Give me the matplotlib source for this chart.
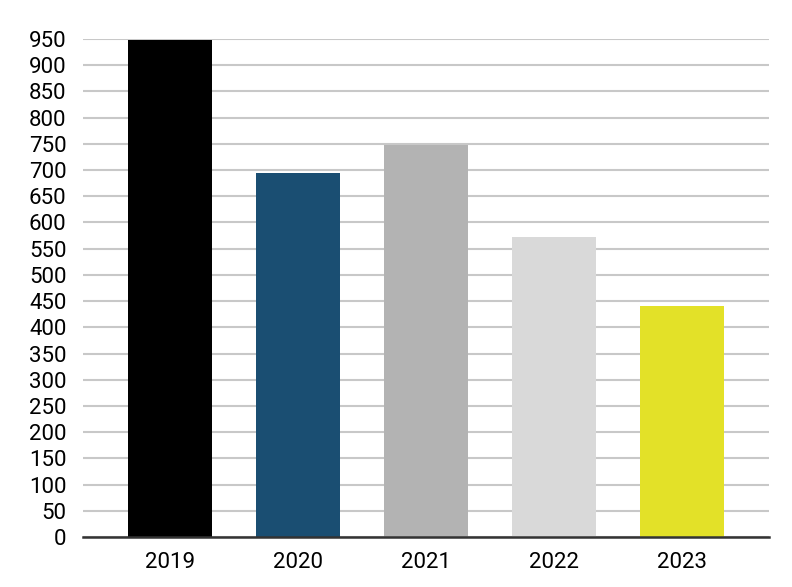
import matplotlib
matplotlib.use('Agg')
import matplotlib.pyplot as plt

years = ['2019', '2020', '2021', '2022', '2023']
values = [948, 695, 748, 573, 440]
colors = ['#000000', '#1a4e72', '#b3b3b3', '#d9d9d9', '#e3e128']
yticks = list(range(0, 951, 50))

plt.rcParams['font.family'] = ['Roboto', 'DejaVu Sans']

fig = plt.figure(figsize=(7.92, 5.87), dpi=100)
ax = fig.add_axes([0.1048, 0.0852, 0.8662, 0.8484])

x = list(range(len(years)))
ax.bar(x, values, width=0.656, color=colors, zorder=3)

ax.set_xlim(-0.68, len(years) - 1 + 0.68)
ax.set_ylim(0, 950)
ax.set_yticks(yticks)
ax.set_xticks(x)
ax.set_xticklabels(years)
ax.tick_params(axis='both', length=0, labelsize=16, colors='#000000')
ax.tick_params(axis='y', pad=12)
ax.tick_params(axis='x', pad=11)

ax.grid(axis='y', color='#c8c8c8', linewidth=1.5, zorder=0)
for s in ['top', 'right', 'left']:
    ax.spines[s].set_visible(False)
ax.spines['bottom'].set_color('#333333')
ax.spines['bottom'].set_linewidth(1.8)
ax.spines['bottom'].set_zorder(4)

fig.savefig('out.png', dpi=100)
